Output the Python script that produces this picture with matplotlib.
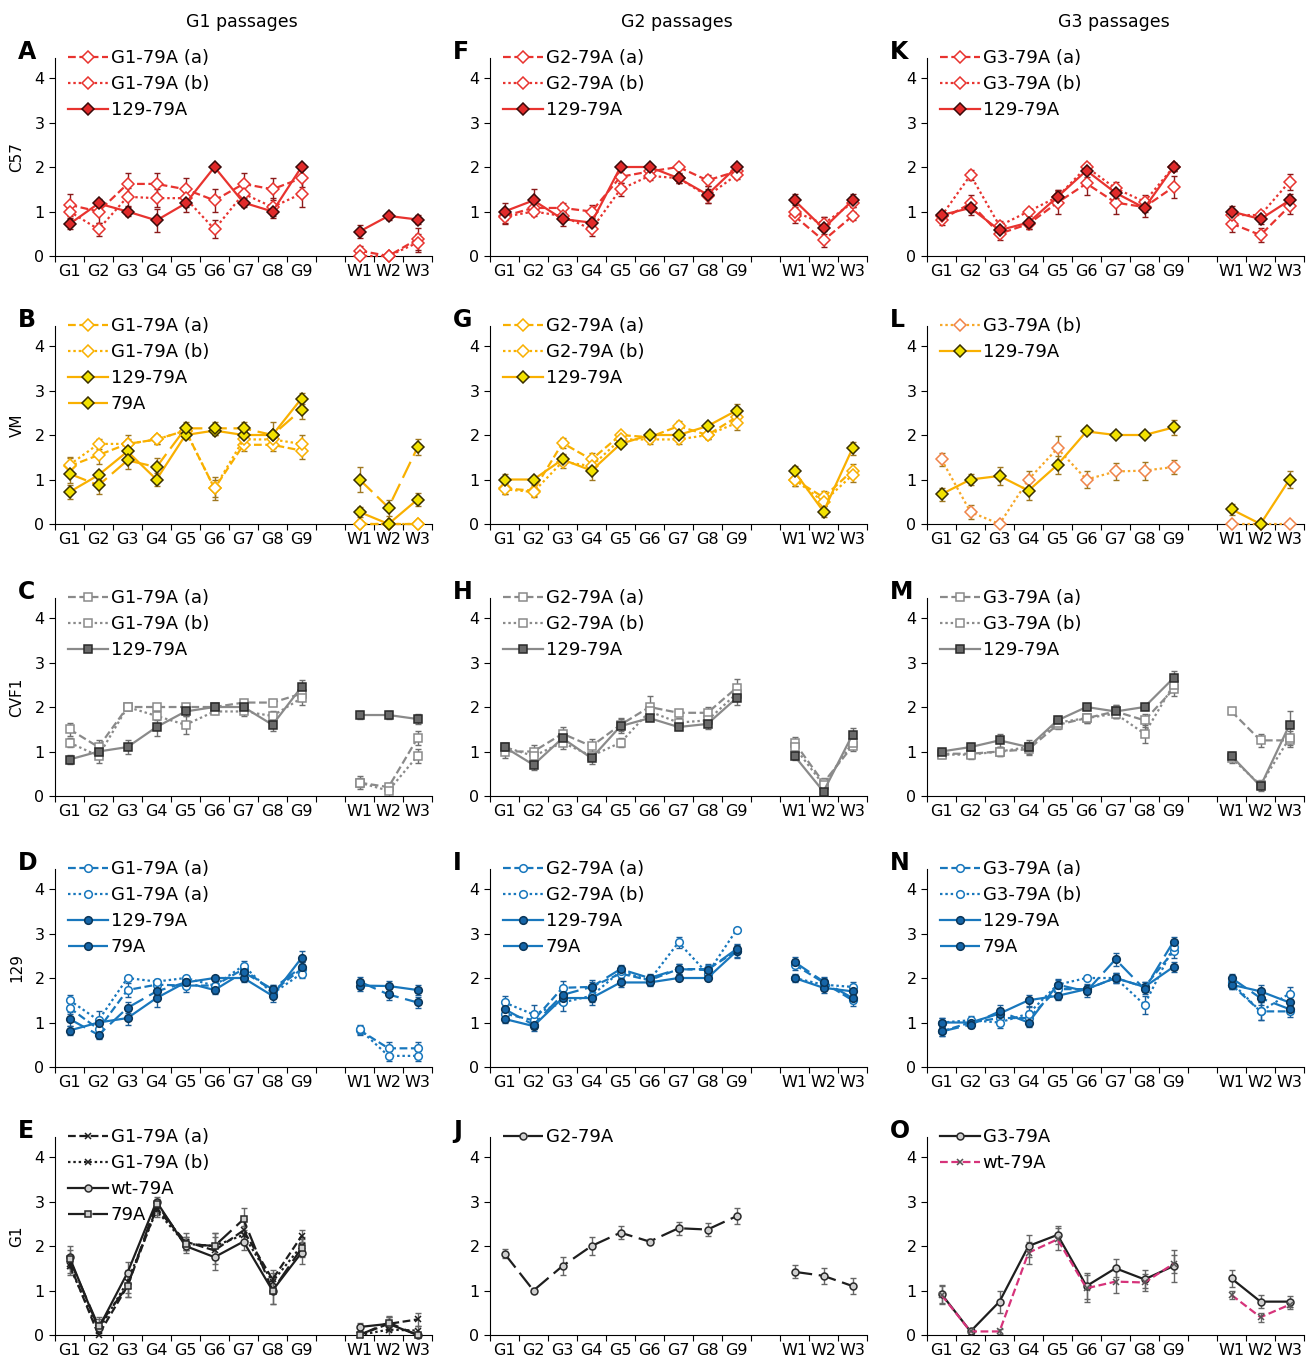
"""Passage panels A-O
"""
import numpy as np
import matplotlib
matplotlib.use('Agg')
import matplotlib.pyplot as plt

xlabels = ['G1', 'G2', 'G3', 'G4', 'G5', 'G6', 'G7', 'G8', 'G9', 'W1', 'W2', 'W3']
col_titles = ['G1 passages', 'G2 passages', 'G3 passages']
row_labels = ['C57', 'VM', 'CVF1', '129', 'G1']

# ---- G1 passages column ----
A_a = [1.15, 1.0, 1.62, 1.62, 1.5, 1.25, 1.62, 1.5, 1.75, 0.12, 0.0, 0.38]
A_a_err = [0.25, 0.25, 0.25, 0.25, 0.25, 0.25, 0.25, 0.25, 0.2, 0.1, 0.05, 0.25]
A_b = [1.0, 0.6, 1.33, 1.3, 1.3, 0.6, 1.4, 1.1, 1.4, 0.0, 0.0, 0.3]
A_b_err = [0.15, 0.15, 0.2, 0.2, 0.2, 0.2, 0.2, 0.2, 0.3, 0.05, 0.0, 0.2]
A_129 = [0.72, 1.18, 1.0, 0.8, 1.18, 2.0, 1.2, 1.0, 2.0, 0.55, 0.9, 0.82]
A_129_err = [0.12, 0.1, 0.1, 0.25, 0.2, 0.0, 0.1, 0.15, 0.0, 0.15, 0.08, 0.1]

B_a = [1.3, 1.55, 1.8, 1.9, 2.1, 0.8, 1.78, 1.78, 1.65, 0.0, 0.0, 0.0]
B_a_err = [0.2, 0.2, 0.2, 0.1, 0.15, 0.25, 0.15, 0.15, 0.2, 0, 0, 0]
B_b = [1.33, 1.8, 1.8, 1.9, 2.1, 0.8, 1.9, 1.9, 1.8, 0.0, 0.0, 0.0]
B_b_err = [0.15, 0.12, 0.1, 0.1, 0.1, 0.2, 0.1, 0.1, 0.2, 0, 0, 0]
B_129 = [0.72, 1.1, 1.63, 1.0, 2.0, 2.1, 2.0, 2.0, 2.82, 0.27, 0.0, 0.55]
B_129_err = [0.15, 0.1, 0.15, 0.15, 0.1, 0.1, 0.1, 0.1, 0.12, 0.12, 0.0, 0.15]
B_79 = [1.13, 0.87, 1.43, 1.28, 2.15, 2.15, 2.15, 2.0, 2.57, 1.0, 0.37, 1.72]
B_79_err = [0.2, 0.2, 0.2, 0.2, 0.15, 0.15, 0.15, 0.3, 0.2, 0.27, 0.18, 0.18]

C_a = [1.5, 1.1, 2.0, 2.0, 2.0, 2.0, 2.1, 2.1, 2.3, 0.3, 0.2, 1.3]
C_a_err = [0.15, 0.15, 0.0, 0.0, 0.0, 0.0, 0.05, 0.05, 0.1, 0.15, 0.1, 0.15]
C_b = [1.2, 0.9, 2.0, 1.8, 1.6, 1.9, 1.9, 1.8, 2.2, 0.3, 0.12, 0.9]
C_b_err = [0.1, 0.15, 0.0, 0.1, 0.2, 0.05, 0.1, 0.1, 0.15, 0.1, 0.15, 0.15]
C_129 = [0.82, 1.0, 1.1, 1.55, 1.9, 2.0, 2.0, 1.6, 2.45, 1.82, 1.82, 1.73]
C_129_err = [0.1, 0.1, 0.15, 0.2, 0.1, 0.05, 0.1, 0.15, 0.15, 0.1, 0.1, 0.12]

D_a = [1.33, 0.85, 1.73, 1.85, 1.83, 1.83, 2.2, 1.7, 2.2, 0.83, 0.42, 0.42]
D_a_err = [0.15, 0.2, 0.15, 0.1, 0.15, 0.1, 0.12, 0.15, 0.15, 0.1, 0.15, 0.15]
D_b = [1.5, 1.05, 2.0, 1.92, 2.0, 1.83, 2.28, 1.65, 2.1, 0.85, 0.25, 0.25]
D_b_err = [0.12, 0.2, 0.05, 0.05, 0.05, 0.1, 0.1, 0.1, 0.1, 0.1, 0.12, 0.12]
D_129 = [0.82, 1.0, 1.1, 1.55, 1.9, 2.0, 2.0, 1.6, 2.45, 1.83, 1.82, 1.73]
D_129_err = [0.1, 0.1, 0.15, 0.2, 0.1, 0.05, 0.08, 0.15, 0.15, 0.12, 0.12, 0.12]
D_79 = [1.08, 0.72, 1.33, 1.7, 1.9, 1.73, 2.13, 1.75, 2.25, 1.92, 1.63, 1.45]
D_79_err = [0.15, 0.1, 0.12, 0.15, 0.1, 0.1, 0.1, 0.1, 0.12, 0.1, 0.12, 0.12]

E_a = [1.6, 0.0, 1.1, 2.85, 2.1, 1.9, 2.35, 1.25, 2.22, 0.0, 0.25, 0.35]
E_a_err = [0.2, 0.2, 0.25, 0.15, 0.2, 0.3, 0.25, 0.2, 0.15, 0.05, 0.15, 0.15]
E_b = [1.55, 0.1, 1.2, 2.8, 2.05, 2.0, 2.25, 1.2, 2.0, 0.0, 0.12, 0.1]
E_b_err = [0.2, 0.2, 0.25, 0.15, 0.15, 0.3, 0.2, 0.2, 0.2, 0.05, 0.15, 0.1]
E_wt = [1.75, 0.15, 1.4, 3.0, 2.0, 1.75, 2.1, 1.0, 1.85, 0.18, 0.25, 0.0]
E_wt_err = [0.25, 0.2, 0.25, 0.1, 0.15, 0.3, 0.2, 0.3, 0.25, 0.1, 0.15, 0.05]
E_79 = [1.7, 0.2, 1.1, 2.95, 2.05, 2.0, 2.6, 1.0, 1.95, 0.0, 0.28, 0.0]
E_79_err = [0.2, 0.2, 0.25, 0.1, 0.15, 0.3, 0.25, 0.3, 0.2, 0.05, 0.15, 0.05]

# ---- G2 passages column ----
F_a = [0.9, 1.08, 1.08, 1.0, 1.78, 1.9, 2.0, 1.7, 1.9, 0.9, 0.35, 0.9]
F_a_err = [0.15, 0.1, 0.1, 0.15, 0.15, 0.1, 0.0, 0.12, 0.1, 0.15, 0.15, 0.1]
F_b = [0.88, 1.0, 0.9, 0.6, 1.5, 1.8, 1.75, 1.35, 1.82, 1.0, 0.72, 1.2]
F_b_err = [0.15, 0.1, 0.1, 0.15, 0.15, 0.1, 0.1, 0.15, 0.1, 0.15, 0.15, 0.1]
F_129 = [1.0, 1.25, 0.83, 0.75, 2.0, 2.0, 1.75, 1.38, 2.0, 1.25, 0.62, 1.25]
F_129_err = [0.2, 0.25, 0.15, 0.15, 0.0, 0.0, 0.12, 0.2, 0.0, 0.15, 0.25, 0.15]

G_a = [0.8, 0.75, 1.82, 1.45, 2.0, 1.95, 2.2, 2.0, 2.4, 1.0, 0.6, 1.2]
G_a_err = [0.12, 0.12, 0.12, 0.15, 0.05, 0.1, 0.12, 0.1, 0.15, 0.15, 0.15, 0.15]
G_b = [0.78, 0.72, 1.4, 1.3, 1.9, 1.9, 1.9, 2.0, 2.27, 1.0, 0.5, 1.1]
G_b_err = [0.1, 0.12, 0.15, 0.15, 0.05, 0.1, 0.1, 0.1, 0.15, 0.15, 0.1, 0.15]
G_129 = [1.0, 1.0, 1.45, 1.2, 1.8, 2.0, 2.0, 2.2, 2.55, 1.18, 0.28, 1.7]
G_129_err = [0.12, 0.0, 0.12, 0.2, 0.05, 0.05, 0.0, 0.05, 0.15, 0.12, 0.12, 0.15]

H_a = [1.0, 1.0, 1.4, 1.12, 1.6, 2.0, 1.87, 1.87, 2.43, 1.2, 0.3, 1.12]
H_a_err = [0.15, 0.15, 0.15, 0.15, 0.15, 0.25, 0.05, 0.12, 0.2, 0.12, 0.1, 0.1]
H_b = [1.1, 0.9, 1.2, 0.9, 1.2, 1.9, 1.65, 1.7, 2.3, 1.1, 0.25, 1.2]
H_b_err = [0.1, 0.1, 0.15, 0.1, 0.1, 0.1, 0.1, 0.1, 0.15, 0.1, 0.1, 0.1]
H_129 = [1.1, 0.7, 1.3, 0.85, 1.57, 1.75, 1.55, 1.62, 2.2, 0.9, 0.1, 1.38]
H_129_err = [0.1, 0.12, 0.15, 0.12, 0.15, 0.05, 0.05, 0.12, 0.15, 0.1, 0.12, 0.15]

I_a = [1.2, 1.05, 1.78, 1.8, 2.1, 1.95, 2.2, 2.2, 2.6, 2.3, 1.9, 1.5]
I_a_err = [0.12, 0.15, 0.15, 0.15, 0.1, 0.1, 0.12, 0.12, 0.15, 0.12, 0.1, 0.12]
I_b = [1.45, 1.18, 1.45, 1.6, 2.15, 1.95, 2.8, 2.1, 3.08, 2.0, 1.85, 1.8]
I_b_err = [0.15, 0.22, 0.2, 0.15, 0.1, 0.1, 0.12, 0.12, 0.05, 0.1, 0.1, 0.12]
I_129 = [1.08, 0.92, 1.55, 1.55, 1.9, 1.9, 2.0, 2.0, 2.6, 2.0, 1.78, 1.7]
I_129_err = [0.08, 0.1, 0.1, 0.15, 0.1, 0.08, 0.05, 0.05, 0.12, 0.05, 0.12, 0.1]
I_79 = [1.3, 0.95, 1.62, 1.8, 2.2, 2.0, 2.2, 2.18, 2.65, 2.36, 1.92, 1.55]
I_79_err = [0.12, 0.1, 0.12, 0.12, 0.1, 0.1, 0.12, 0.12, 0.12, 0.12, 0.1, 0.12]

J_g2 = [1.83, 1.0, 1.55, 2.0, 2.3, 2.1, 2.4, 2.37, 2.67, 1.42, 1.33, 1.1]
J_g2_err = [0.1, 0.05, 0.2, 0.2, 0.15, 0.05, 0.15, 0.15, 0.18, 0.15, 0.18, 0.18]

# ---- G3 passages column ----
K_a = [0.82, 1.18, 0.5, 0.72, 1.2, 1.63, 1.2, 1.1, 1.55, 0.73, 0.47, 1.12]
K_a_err = [0.12, 0.2, 0.15, 0.12, 0.25, 0.25, 0.25, 0.1, 0.25, 0.2, 0.15, 0.18]
K_b = [0.9, 1.82, 0.68, 1.0, 1.33, 2.0, 1.52, 1.22, 2.0, 0.92, 0.92, 1.67]
K_b_err = [0.1, 0.12, 0.1, 0.05, 0.15, 0.1, 0.15, 0.15, 0.1, 0.1, 0.1, 0.18]
K_129 = [0.92, 1.08, 0.58, 0.75, 1.33, 1.92, 1.42, 1.08, 2.0, 1.0, 0.83, 1.25]
K_129_err = [0.1, 0.15, 0.1, 0.15, 0.15, 0.15, 0.12, 0.2, 0.1, 0.12, 0.1, 0.15]

L_b = [1.45, 0.27, 0.0, 1.0, 1.7, 1.0, 1.18, 1.2, 1.28, 0.0, 0.0, 0.0]
L_b_err = [0.15, 0.15, 0.0, 0.2, 0.27, 0.2, 0.2, 0.2, 0.15, 0, 0, 0]
L_129 = [0.67, 1.0, 1.08, 0.75, 1.33, 2.08, 2.0, 2.0, 2.17, 0.33, 0.0, 1.0]
L_129_err = [0.15, 0.12, 0.2, 0.2, 0.2, 0.05, 0.0, 0.0, 0.17, 0.13, 0.0, 0.2]

M_a = [0.95, 0.95, 1.0, 1.05, 1.6, 1.75, 1.9, 1.7, 2.4, 1.9, 1.25, 1.25]
M_a_err = [0.08, 0.1, 0.1, 0.12, 0.1, 0.1, 0.15, 0.15, 0.15, 0.05, 0.15, 0.15]
M_b = [0.93, 0.93, 1.0, 1.1, 1.65, 1.75, 1.85, 1.4, 2.5, 0.85, 0.25, 1.3]
M_b_err = [0.08, 0.1, 0.1, 0.12, 0.1, 0.1, 0.1, 0.2, 0.15, 0.1, 0.1, 0.15]
M_129 = [1.0, 1.1, 1.25, 1.1, 1.7, 2.0, 1.9, 2.0, 2.65, 0.9, 0.22, 1.6]
M_129_err = [0.05, 0.08, 0.15, 0.15, 0.1, 0.05, 0.15, 0.05, 0.15, 0.1, 0.1, 0.3]

N_a = [0.8, 1.0, 1.1, 1.1, 1.75, 1.75, 2.0, 1.8, 2.6, 1.85, 1.25, 1.25]
N_a_err = [0.1, 0.1, 0.12, 0.15, 0.1, 0.1, 0.12, 0.12, 0.15, 0.1, 0.2, 0.12]
N_b = [1.0, 1.05, 1.0, 1.2, 1.85, 2.0, 2.0, 1.4, 2.7, 1.9, 1.25, 1.65]
N_b_err = [0.1, 0.1, 0.12, 0.15, 0.1, 0.05, 0.1, 0.2, 0.12, 0.1, 0.2, 0.15]
N_129 = [1.0, 1.0, 1.2, 1.5, 1.6, 1.75, 2.0, 1.8, 2.25, 1.85, 1.7, 1.45]
N_129_err = [0.1, 0.1, 0.12, 0.12, 0.1, 0.12, 0.12, 0.1, 0.12, 0.1, 0.15, 0.12]
N_79 = [0.8, 0.95, 1.25, 1.0, 1.85, 1.7, 2.42, 1.75, 2.82, 2.0, 1.55, 1.3]
N_79_err = [0.1, 0.08, 0.15, 0.1, 0.12, 0.12, 0.15, 0.1, 0.1, 0.1, 0.15, 0.12]

O_g3 = [0.92, 0.08, 0.75, 2.0, 2.25, 1.1, 1.5, 1.25, 1.55, 1.27, 0.75, 0.75]
O_g3_err = [0.2, 0.05, 0.25, 0.25, 0.2, 0.3, 0.2, 0.2, 0.35, 0.2, 0.15, 0.12]
O_wt = [0.9, 0.08, 0.08, 1.85, 2.15, 1.05, 1.2, 1.18, 1.6, 0.9, 0.4, 0.68]
O_wt_err = [0.2, 0.05, 0.05, 0.25, 0.25, 0.3, 0.25, 0.2, 0.2, 0.1, 0.1, 0.1]

# line styles
DASH = (0, (3.5, 1.6))
DOT = (0, (1.1, 1.3))
LONG = (0, (8, 3))
SOLID = '-'

# colour families: line, filled marker, marker edge, error bar
RED = ('#E8332F', '#E02A2A', '#3A0A0A', '#8B1A1A')
YEL = ('#F9B000', '#F2E200', '#3A3000', '#A07820')
GRY = ('#8A8A8A', '#6A6A6A', '#2A2A2A', '#707070')
BLU = ('#1877BD', '#1565A8', '#0A3558', '#1A5E9A')
BLK = ('#1E1E1E', '#CFCFCF', '#2A2A2A', '#666666')


def st(fam, ls, mk, filled, ms=6):
    line, fill, edge, err = fam
    if filled:
        return dict(ls=ls, color=line, marker=mk, mfc=fill, mec=edge, ms=ms, ecol=err)
    return dict(ls=ls, color=line, marker=mk, mfc='white', mec=line, ms=ms, ecol=err)


panels = {
    'A': [('G1-79A (a)', A_a, A_a_err, st(RED, DASH, 'D', False)),
          ('G1-79A (b)', A_b, A_b_err, st(RED, DOT, 'D', False)),
          ('129-79A', A_129, A_129_err, st(RED, SOLID, 'D', True))],
    'B': [('G1-79A (a)', B_a, B_a_err, st(YEL, DASH, 'D', False)),
          ('G1-79A (b)', B_b, B_b_err, st(YEL, DOT, 'D', False)),
          ('129-79A', B_129, B_129_err, st(YEL, SOLID, 'D', True)),
          ('79A', B_79, B_79_err, st(YEL, LONG, 'D', True))],
    'C': [('G1-79A (a)', C_a, C_a_err, st(GRY, DASH, 's', False, 5.5)),
          ('G1-79A (b)', C_b, C_b_err, st(GRY, DOT, 's', False, 5.5)),
          ('129-79A', C_129, C_129_err, st(GRY, SOLID, 's', True, 5.5))],
    'D': [('G1-79A (a)', D_a, D_a_err, st(BLU, DASH, 'o', False, 5.5)),
          ('G1-79A (a)', D_b, D_b_err, st(BLU, DOT, 'o', False, 5.5)),
          ('129-79A', D_129, D_129_err, st(BLU, SOLID, 'o', True, 5.5)),
          ('79A', D_79, D_79_err, st(BLU, LONG, 'o', True, 5.5))],
    'E': [('G1-79A (a)', E_a, E_a_err, st(BLK, DASH, 'x', False, 4.5)),
          ('G1-79A (b)', E_b, E_b_err, st(BLK, DOT, 'x', False, 4.5)),
          ('wt-79A', E_wt, E_wt_err, st(BLK, SOLID, 'o', True, 5)),
          ('79A', E_79, E_79_err, st(BLK, LONG, 's', True, 5))],
    'F': [('G2-79A (a)', F_a, F_a_err, st(RED, DASH, 'D', False)),
          ('G2-79A (b)', F_b, F_b_err, st(RED, DOT, 'D', False)),
          ('129-79A', F_129, F_129_err, st(RED, SOLID, 'D', True))],
    'G': [('G2-79A (a)', G_a, G_a_err, st(YEL, DASH, 'D', False)),
          ('G2-79A (b)', G_b, G_b_err, st(YEL, DOT, 'D', False)),
          ('129-79A', G_129, G_129_err, st(YEL, SOLID, 'D', True))],
    'H': [('G2-79A (a)', H_a, H_a_err, st(GRY, DASH, 's', False, 5.5)),
          ('G2-79A (b)', H_b, H_b_err, st(GRY, DOT, 's', False, 5.5)),
          ('129-79A', H_129, H_129_err, st(GRY, SOLID, 's', True, 5.5))],
    'I': [('G2-79A (a)', I_a, I_a_err, st(BLU, DASH, 'o', False, 5.5)),
          ('G2-79A (b)', I_b, I_b_err, st(BLU, DOT, 'o', False, 5.5)),
          ('129-79A', I_129, I_129_err, st(BLU, SOLID, 'o', True, 5.5)),
          ('79A', I_79, I_79_err, st(BLU, LONG, 'o', True, 5.5))],
    'J': [('G2-79A', J_g2, J_g2_err, st(BLK, LONG, 'o', True, 5))],
    'K': [('G3-79A (a)', K_a, K_a_err, st(RED, DASH, 'D', False)),
          ('G3-79A (b)', K_b, K_b_err, st(RED, DOT, 'D', False)),
          ('129-79A', K_129, K_129_err, st(RED, SOLID, 'D', True))],
    'L': [('G3-79A (b)', L_b, L_b_err,
           dict(ls=DOT, color='#F7A828', marker='D', mfc='white', mec='#F0844A', ms=6, ecol='#A07820')),
          ('129-79A', L_129, L_129_err, st(YEL, SOLID, 'D', True))],
    'M': [('G3-79A (a)', M_a, M_a_err, st(GRY, DASH, 's', False, 5.5)),
          ('G3-79A (b)', M_b, M_b_err, st(GRY, DOT, 's', False, 5.5)),
          ('129-79A', M_129, M_129_err, st(GRY, SOLID, 's', True, 5.5))],
    'N': [('G3-79A (a)', N_a, N_a_err, st(BLU, DASH, 'o', False, 5.5)),
          ('G3-79A (b)', N_b, N_b_err, st(BLU, DOT, 'o', False, 5.5)),
          ('129-79A', N_129, N_129_err, st(BLU, SOLID, 'o', True, 5.5)),
          ('79A', N_79, N_79_err, st(BLU, LONG, 'o', True, 5.5))],
    'O': [('G3-79A', O_g3, O_g3_err, st(BLK, SOLID, 'o', True, 5)),
          ('wt-79A', O_wt, O_wt_err,
           dict(ls=DASH, color='#D6337A', marker='x', mfc='white', mec='#555555', ms=4.5, ecol='#666666'))],
}

letters = [['A', 'B', 'C', 'D', 'E'], ['F', 'G', 'H', 'I', 'J'], ['K', 'L', 'M', 'N', 'O']]

W, H = 1306, 1361
fig = plt.figure(figsize=(W / 100, H / 100), dpi=100)

lefts = [55, 490, 927]
ax_w = 377
zeros = [256, 524, 796, 1067, 1335]
ax_h = 198
ytop = 4.45

pos = np.arange(13)  # slot 9 is the gap between G9 and W1

for c in range(3):
    fig.text((lefts[c] + ax_w / 2 - 2) / W, 1 - 22 / H, col_titles[c],
             ha='center', va='center', fontsize=12.5)
    for r in range(5):
        key = letters[c][r]
        ax = fig.add_axes([lefts[c] / W, 1 - zeros[r] / H, ax_w / W, ax_h / H])
        handles = []
        for lab, vals, errs, s in panels[key]:
            y = np.array(vals[:9] + [np.nan] + vals[9:], dtype=float)
            e = np.array(errs[:9] + [0] + errs[9:], dtype=float)
            ax.errorbar(pos, y, yerr=e, fmt='none', ecolor=s['ecol'],
                        elinewidth=1, capsize=2.5, capthick=1, zorder=2)
            h, = ax.plot(pos, y, ls=s['ls'], color=s['color'], lw=1.6,
                         marker=s['marker'], ms=s['ms'], mfc=s['mfc'],
                         mec=s['mec'], mew=1.1, label=lab, zorder=3,
                         clip_on=False)
            handles.append(h)

        ax.set_xlim(-0.5, 12.5)
        ax.set_ylim(0, ytop)
        ax.spines['top'].set_visible(False)
        ax.spines['right'].set_visible(False)
        ax.set_yticks([0, 1, 2, 3, 4])
        ax.set_xticks(np.arange(-0.5, 13, 1))
        ax.set_xticklabels([])
        ax.set_xticks([0, 1, 2, 3, 4, 5, 6, 7, 8, 10, 11, 12], minor=True)
        ax.set_xticklabels(xlabels, minor=True)
        ax.tick_params(axis='x', which='major', length=4, direction='out')
        ax.tick_params(axis='x', which='minor', length=0, labelsize=11.5, pad=6)
        ax.tick_params(axis='y', length=4, direction='out', labelsize=11.5)

        ax.legend(handles=handles, loc='upper left', bbox_to_anchor=(0.035, 1.045),
                  frameon=False, fontsize=13, handlelength=2.2,
                  handletextpad=0.15, labelspacing=0.45, borderaxespad=0,
                  borderpad=0)

        fig.text((lefts[c] - 37) / W, 1 - (zeros[r] - ax_h - 6) / H, key,
                 fontsize=17, fontweight='bold', ha='left', va='center')
        if c == 0:
            ax.set_ylabel(row_labels[r], fontsize=11, labelpad=7)

fig.savefig('out.png', dpi=100)
